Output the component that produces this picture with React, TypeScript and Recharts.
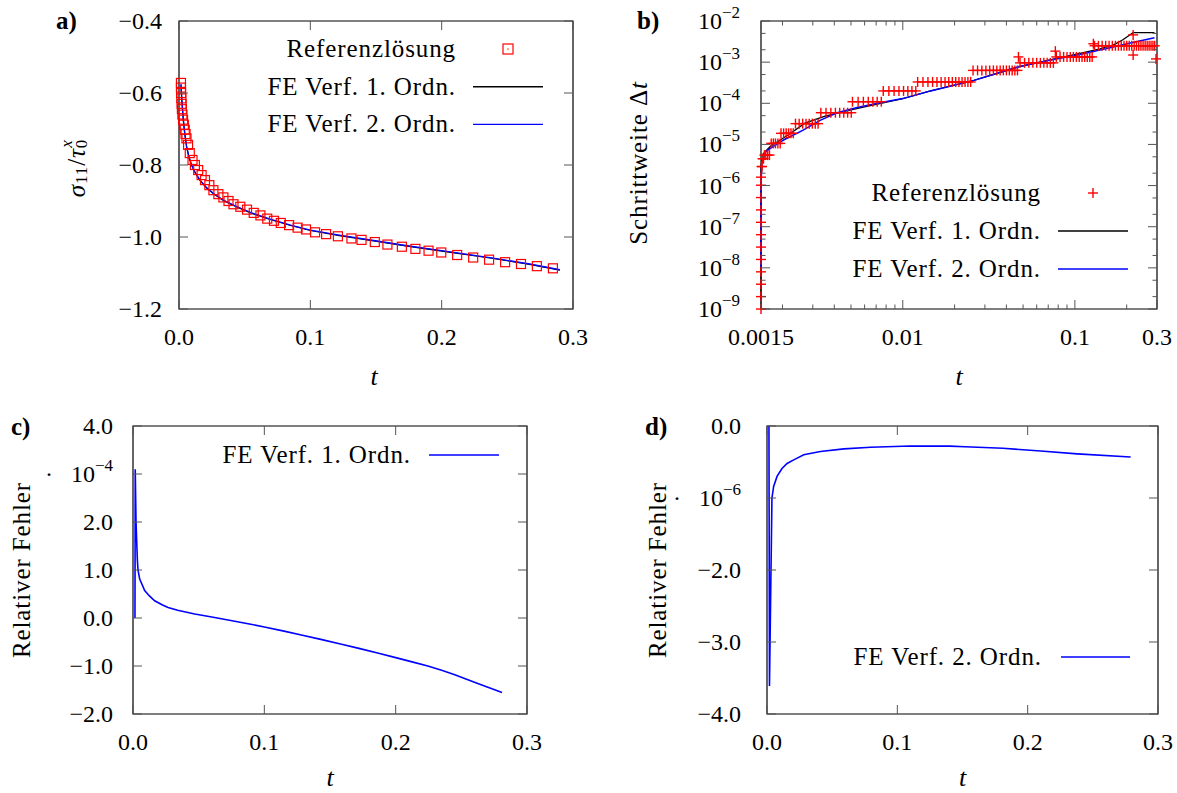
import React from "react";
import {
  ComposedChart,
  Line,
  Scatter,
  XAxis,
  YAxis,
  ReferenceArea,
  Legend,
} from "recharts";

const FONT = "'Liberation Serif', 'DejaVu Serif', 'Noto Serif', 'Times New Roman', Times, serif";
const RED = "#ff0000";
const BLUE = "#0000ff";
const TICK_COLOR = "#555";

const REF_NAME = "Referenzlösung";
const FE1_NAME = "FE Verf. 1. Ordn.";
const FE2_NAME = "FE Verf. 2. Ordn.";

// ---------- a) stress over time ----------
const aRefT = [
  0.0015, 0.0015, 0.0016, 0.0018, 0.002, 0.0022, 0.0026, 0.0031, 0.0037, 0.0044,
  0.005, 0.0057, 0.0069, 0.0082, 0.0103, 0.0121, 0.0146, 0.0172, 0.0198, 0.0231,
  0.0262, 0.03, 0.0338, 0.0377, 0.0415, 0.0467, 0.0518, 0.0569, 0.062, 0.0672,
  0.0723, 0.0775, 0.0838, 0.0903, 0.0967, 0.1036, 0.112, 0.121, 0.1313, 0.139,
  0.1491, 0.1587, 0.1697, 0.18, 0.19, 0.1997, 0.2118, 0.224, 0.2361, 0.2483,
  0.2604, 0.2725, 0.2847,
];
const aRefSigma = [
  -0.572, -0.585, -0.6, -0.615, -0.63, -0.645, -0.66, -0.674, -0.688, -0.702,
  -0.714, -0.726, -0.744, -0.767, -0.786, -0.8, -0.814, -0.828, -0.842, -0.856,
  -0.87, -0.881, -0.89, -0.9, -0.909, -0.916, -0.924, -0.933, -0.94, -0.949,
  -0.955, -0.961, -0.967, -0.974, -0.979, -0.987, -0.992, -0.998, -1.004, -1.008,
  -1.014, -1.021, -1.027, -1.033, -1.038, -1.043, -1.05, -1.057, -1.063, -1.07,
  -1.075, -1.081, -1.087,
];
const aFeT = [
  0.0015, 0.0018, 0.0022, 0.0027, 0.0033, 0.0044, 0.0058, 0.0075, 0.0096, 0.0125,
  0.016, 0.0205, 0.0263, 0.034, 0.0443, 0.056, 0.07, 0.085, 0.1, 0.122,
  0.147, 0.175, 0.2, 0.238, 0.267, 0.29,
];
const aFe1Sigma = [
  -0.578, -0.6, -0.623, -0.648, -0.676, -0.714, -0.75, -0.777, -0.801, -0.823,
  -0.843, -0.862, -0.88, -0.899, -0.917, -0.935, -0.952, -0.968, -0.982, -0.996,
  -1.01, -1.026, -1.039, -1.059, -1.076, -1.092,
];
const aFe2Sigma = [
  -0.575, -0.596, -0.62, -0.645, -0.674, -0.712, -0.749, -0.776, -0.8, -0.822,
  -0.842, -0.861, -0.879, -0.898, -0.916, -0.934, -0.951, -0.967, -0.981, -0.995,
  -1.009, -1.025, -1.038, -1.058, -1.075, -1.091,
];
const aXTicks = [0, 0.1, 0.2, 0.3];
const aXLabels = ["0.0", "0.1", "0.2", "0.3"];
const aYTicks = [-1.2, -1.0, -0.8, -0.6, -0.4];
const aYLabels = ["−1.2", "−1.0", "−0.8", "−0.6", "−0.4"];

// ---------- b) step size ----------
// first steps, all at t = 0.0015 (step doubles)
const bStartDt = [
  1e-9, 2e-9, 4e-9, 8e-9, 1.6e-8, 3.2e-8, 6.4e-8, 1.28e-7, 2.56e-7, 5.12e-7, 1.02e-6, 1.6e-6,
];
// runs of constant step size: [dt, times]
const bRefRuns: [number, number[]][] = [
  [2.9e-6, [0.00151, 0.00152]],
  [4.5e-6, [0.00153, 0.00155]],
  [5.5e-6, [0.00157, 0.0016, 0.00164, 0.00168]],
  [1.06e-5, [0.00172, 0.00177, 0.00182, 0.00188, 0.00194]],
  [1.86e-5, [0.00196, 0.00203, 0.0021, 0.00217, 0.00224, 0.00231]],
  [3.2e-5, [0.00238, 0.0025, 0.00262, 0.00274, 0.00286, 0.00298, 0.0031, 0.00322]],
  [5.9e-5, [0.00334, 0.00358, 0.00382, 0.00406, 0.0043, 0.00454, 0.00478, 0.00502]],
  [1.09e-4, [0.0051, 0.0055, 0.0059, 0.0063, 0.0067, 0.0071, 0.0075]],
  [2.0e-4, [0.0077, 0.0083, 0.0089, 0.0095, 0.0101, 0.0107, 0.0113, 0.0119]],
  [3.3e-4, [0.0122, 0.0131, 0.014, 0.0149, 0.0158, 0.0167, 0.0176, 0.0185, 0.0194, 0.0203, 0.0212, 0.0221, 0.023, 0.0239, 0.0248]],
  [6.3e-4, [0.0256, 0.0272, 0.0288, 0.0304, 0.032, 0.0336, 0.0352, 0.0368, 0.0384, 0.04, 0.0416, 0.0432, 0.0448, 0.0464]],
  [9.6e-4, [0.048, 0.051, 0.054, 0.057, 0.06, 0.063, 0.066, 0.069, 0.072, 0.075]],
  [1.34e-3, [0.078, 0.082, 0.086, 0.09, 0.094, 0.098, 0.102, 0.106, 0.11, 0.114, 0.118, 0.122, 0.126]],
  [2.5e-3, [0.13, 0.137, 0.144, 0.151, 0.158, 0.165, 0.172, 0.179, 0.186, 0.193, 0.2, 0.207, 0.214, 0.221, 0.228, 0.235, 0.242, 0.249, 0.256, 0.263, 0.27, 0.277, 0.284, 0.291]],
];
const bOutlierT = [0.047, 0.077, 0.128, 0.218, 0.218, 0.296];
const bOutlierDt = [1.34e-3, 1.85e-3, 2.8e-3, 4.6e-3, 1.49e-3, 1.2e-3];

const bFe1T = [
  0.0015, 0.0015, 0.0015, 0.0015, 0.00155, 0.0017, 0.0022, 0.0027, 0.0035, 0.0045,
  0.006, 0.01, 0.0145, 0.0259, 0.047, 0.07, 0.107, 0.14, 0.167, 0.19, 0.218, 0.29,
];
const bFe1Dt = [
  1e-9, 1e-7, 1e-6, 3e-6, 6e-6, 9e-6, 1.8e-5, 3.3e-5, 4.8e-5, 6.3e-5,
  8.2e-5, 1.3e-4, 2.0e-4, 3.6e-4, 7.7e-4, 1.1e-3, 1.64e-3, 2.1e-3, 2.6e-3, 3.5e-3, 5.2e-3, 5.2e-3,
];
const bFe2T = [
  0.0015, 0.0015, 0.0015, 0.00152, 0.00159, 0.00176, 0.00204, 0.00262, 0.00333, 0.00415,
  0.00543, 0.0075, 0.01, 0.0145, 0.0259, 0.047, 0.07, 0.107, 0.167, 0.22, 0.29,
];
const bFe2Dt = [
  1e-8, 1e-7, 1e-6, 4e-6, 6.6e-6, 8.8e-6, 1.3e-5, 2.2e-5, 3.9e-5, 5.9e-5,
  7.9e-5, 1.05e-4, 1.3e-4, 2.0e-4, 3.6e-4, 7.7e-4, 1.1e-3, 1.54e-3, 2.33e-3, 3.05e-3, 3.9e-3,
];
const bXTicks = [0.0015, 0.01, 0.1, 0.3];
const bXLabels = ["0.0015", "0.01", "0.1", "0.3"];
const bXMinor = [0.002, 0.003, 0.004, 0.005, 0.006, 0.007, 0.008, 0.009, 0.02, 0.03, 0.04, 0.05, 0.06, 0.07, 0.08, 0.09, 0.2];
const bYTicks = [1e-9, 1e-8, 1e-7, 1e-6, 1e-5, 1e-4, 1e-3, 1e-2];
const bYLabels = ["10^−9", "10^−8", "10^−7", "10^−6", "10^−5", "10^−4", "10^−3", "10^−2"];
const bYMinor = [2e-9, 5e-9, 2e-8, 5e-8, 2e-7, 5e-7, 2e-6, 5e-6, 2e-5, 5e-5, 2e-4, 5e-4, 2e-3, 5e-3];

// ---------- c) relative error, 1st order ----------
const cT = [
  0.0015, 0.0017, 0.0023, 0.0033, 0.0038, 0.0051, 0.0089, 0.0125, 0.0165, 0.0225,
  0.0267, 0.034, 0.047, 0.06, 0.0724, 0.0876, 0.1, 0.115, 0.129, 0.143,
  0.158, 0.172, 0.187, 0.2, 0.2125, 0.2245, 0.235, 0.245, 0.262, 0.281,
];
const cErr = [
  0, 3.1, 2.0, 1.22, 1.0, 0.81, 0.57, 0.46, 0.36, 0.27,
  0.22, 0.16, 0.083, 0.02, -0.04, -0.119, -0.187, -0.274, -0.358, -0.445,
  -0.541, -0.633, -0.735, -0.826, -0.914, -1.0, -1.09, -1.18, -1.36, -1.55,
];
const cYTicks = [-2, -1, 0, 1, 2, 3, 4];
const cYLabels = ["−2.0", "−1.0", "0.0", "1.0", "2.0", "·   10^−4", "4.0"];

// ---------- d) relative error, 2nd order ----------
const dT = [
  0.0015, 0.0019, 0.0038, 0.0051, 0.0077, 0.0115, 0.0154, 0.0205, 0.0282, 0.041,
  0.059, 0.0795, 0.11, 0.14, 0.152, 0.181, 0.21, 0.238, 0.279,
];
const dErr = [
  0, -3.61, -1.0, -0.84, -0.7, -0.59, -0.52, -0.47, -0.4, -0.355,
  -0.318, -0.295, -0.277, -0.28, -0.288, -0.31, -0.347, -0.387, -0.43,
];
const dYTicks = [-4, -3, -2, -1, 0];
const dYLabels = ["−4.0", "−3.0", "−2.0", "·   10^−6", "0.0"];

type Pt = { t: number; v: number };
const zip = (ts: number[], vs: number[]): Pt[] =>
  ts.slice(0, Math.min(ts.length, vs.length)).map((t, i) => ({ t, v: vs[i] }));

const aRef = zip(aRefT, aRefSigma);
const aFe1 = zip(aFeT, aFe1Sigma);
const aFe2 = zip(aFeT, aFe2Sigma);
const bRef: Pt[] = [
  ...bStartDt.map((v) => ({ t: 0.0015, v })),
  ...bRefRuns.flatMap(([dt, ts]) => ts.map((t) => ({ t, v: dt }))),
  ...zip(bOutlierT, bOutlierDt),
];
const bFe1 = zip(bFe1T, bFe1Dt);
const bFe2 = zip(bFe2T, bFe2Dt);
const cFe1 = zip(cT, cErr);
const dFe2 = zip(dT, dErr);

type Box = { left: number; right: number; top: number; bottom: number };

function tickText(s: string) {
  const i = s.indexOf("^");
  if (i < 0) return s;
  return (
    <>
      {s.slice(0, i).replace(/ /g, "\u00a0")}
      <tspan dy={-11} fontSize={17}>
        {s.slice(i + 1)}
      </tspan>
    </>
  );
}

const xTick = (box: Box, major: number[], labels: string[]) => (props: any) => {
  const { x, payload } = props;
  const idx = major.indexOf(payload.value);
  const len = idx >= 0 ? 9 : 4.5;
  return (
    <g>
      <line x1={x} x2={x} y1={box.bottom} y2={box.bottom - len} stroke={TICK_COLOR} />
      <line x1={x} x2={x} y1={box.top} y2={box.top + len} stroke={TICK_COLOR} />
      {idx >= 0 && (
        <text x={x} y={box.bottom + 36} textAnchor="middle" fontFamily={FONT} fontSize={24} fill="#000">
          {tickText(labels[idx])}
        </text>
      )}
    </g>
  );
};

const yTick = (box: Box, major: number[], labels: string[], gap: number) => (props: any) => {
  const { y, payload } = props;
  const idx = major.indexOf(payload.value);
  const len = idx >= 0 ? 9 : 4.5;
  return (
    <g>
      <line x1={box.left} x2={box.left + len} y1={y} y2={y} stroke={TICK_COLOR} />
      <line x1={box.right} x2={box.right - len} y1={y} y2={y} stroke={TICK_COLOR} />
      {idx >= 0 && (
        <text x={box.left - gap} y={y + 8} textAnchor="end" fontFamily={FONT} fontSize={24} fill="#000">
          {tickText(labels[idx])}
        </text>
      )}
    </g>
  );
};

const SquareDot = (props: any) => {
  const { cx, cy } = props;
  if (cx == null || cy == null) return <g />;
  return <rect x={cx - 4.5} y={cy - 4.5} width={9} height={9} fill="none" stroke={RED} strokeWidth={1.2} />;
};

const PlusDot = (props: any) => {
  const { cx, cy } = props;
  if (cx == null || cy == null) return <g />;
  return (
    <g stroke={RED} strokeWidth={1.4}>
      <line x1={cx - 5} x2={cx + 5} y1={cy} y2={cy} />
      <line x1={cx} x2={cx} y1={cy - 5} y2={cy + 5} />
    </g>
  );
};

type LegendSpec = { textRight: number; x1: number; x2: number; y0: number; gap: number };
const ORDER = [REF_NAME, FE1_NAME, FE2_NAME];

const legendContent = (spec: LegendSpec, w: number, h: number) => (props: any) => {
  const items = [...(props.payload ?? [])].sort(
    (a: any, b: any) => ORDER.indexOf(a.value) - ORDER.indexOf(b.value)
  );
  const cx = (spec.x1 + spec.x2) / 2;
  return (
    <svg width={w} height={h} style={{ display: "block", overflow: "visible" }}>
      {items.map((it: any, i: number) => {
        const y = spec.y0 + i * spec.gap;
        let sample: React.ReactNode;
        if (it.type === "square") {
          sample = (
            <g>
              <rect x={cx - 5} y={y - 5} width={10} height={10} fill="none" stroke={RED} strokeWidth={1.2} />
              <rect x={cx - 0.6} y={y - 0.6} width={1.2} height={1.2} fill={RED} />
            </g>
          );
        } else if (it.type === "cross") {
          sample = <PlusDot cx={cx} cy={y} />;
        } else {
          sample = <line x1={spec.x1} x2={spec.x2} y1={y} y2={y} stroke={it.color} strokeWidth={1.4} />;
        }
        return (
          <g key={i}>
            <text
              x={spec.textRight}
              y={y + 8}
              textAnchor="end"
              fontFamily={FONT}
              fontSize={25}
              letterSpacing={0.9}
              fill="#000"
            >
              {it.value}
            </text>
            {sample}
          </g>
        );
      })}
    </svg>
  );
};

type Title = { x: number; y: number };

function Overlay({
  w,
  h,
  tag,
  tagPos,
  tPos,
  yPos,
  yTitle,
}: {
  w: number;
  h: number;
  tag: string;
  tagPos: Title;
  tPos: Title;
  yPos: Title;
  yTitle: React.ReactNode;
}) {
  return (
    <svg
      width={w}
      height={h}
      style={{ position: "absolute", left: 0, top: 0, pointerEvents: "none" }}
      fontFamily={FONT}
      fill="#000"
    >
      <text x={tagPos.x} y={tagPos.y} fontSize={25} fontWeight="bold">
        {tag}
      </text>
      <text x={tPos.x} y={tPos.y} fontSize={26} fontStyle="italic" textAnchor="middle">
        t
      </text>
      <text
        x={yPos.x}
        y={yPos.y}
        fontSize={25}
        textAnchor="middle"
        dominantBaseline="central"
        letterSpacing={0.9}
        transform={`rotate(-90 ${yPos.x} ${yPos.y})`}
      >
        {yTitle}
      </text>
    </svg>
  );
}

const sigmaTitle = (
  <>
    <tspan fontStyle="italic">σ</tspan>
    <tspan fontSize={17} dy={5}>11</tspan>
    <tspan dy={-5}>/</tspan>
    <tspan fontStyle="italic">τ</tspan>
    <tspan fontSize={17} dy={5}>0</tspan>
    <tspan fontSize={17} fontStyle="italic" dx={-9} dy={-15}>x</tspan>
  </>
);
const stepTitle = (
  <>
    Schrittweite Δ<tspan fontStyle="italic">t</tspan>
  </>
);

function PanelA() {
  const W = 590, H = 400;
  const box: Box = { left: 179, right: 573, top: 21, bottom: 309 };
  return (
    <div style={{ position: "absolute", left: 0, top: 0, width: W, height: H }}>
      <ComposedChart
        width={W}
        height={H}
        margin={{ top: box.top, right: W - box.right, left: 0, bottom: 0 }}
        style={{ fontFamily: FONT }}
      >
        <XAxis
          type="number"
          dataKey="t"
          domain={[0, 0.3]}
          ticks={aXTicks}
          interval={0}
          height={H - box.bottom}
          axisLine={false}
          tickLine={false}
          tick={xTick(box, aXTicks, aXLabels)}
        />
        <YAxis
          type="number"
          dataKey="v"
          domain={[-1.2, -0.4]}
          ticks={aYTicks}
          interval={0}
          width={box.left}
          axisLine={false}
          tickLine={false}
          tick={yTick(box, aYTicks, aYLabels, 17)}
        />
        <ReferenceArea x1={0} x2={0.3} y1={-1.2} y2={-0.4} fill="none" stroke="#000" strokeWidth={1.2} />
        <Scatter name={REF_NAME} data={aRef} dataKey="v" legendType="square" shape={SquareDot} isAnimationActive={false} />
        <Line name={FE1_NAME} data={aFe1} dataKey="v" stroke="#000" strokeWidth={1.2} dot={false} activeDot={false} legendType="line" isAnimationActive={false} />
        <Line name={FE2_NAME} data={aFe2} dataKey="v" stroke={BLUE} strokeWidth={1.3} dot={false} activeDot={false} legendType="line" isAnimationActive={false} />
        <Legend
          layout="vertical"
          align="center"
          verticalAlign="middle"
          wrapperStyle={{ left: 0, top: 0, width: W, height: H, right: "auto", bottom: "auto" }}
          content={legendContent({ textRight: 456, x1: 473, x2: 543, y0: 49, gap: 37.7 }, W, H)}
        />
      </ComposedChart>
      <Overlay w={W} h={H} tag="a)" tagPos={{ x: 56, y: 29 }} tPos={{ x: 374, y: 385 }} yPos={{ x: 76, y: 168 }} yTitle={sigmaTitle} />
    </div>
  );
}

function PanelB() {
  const W = 587, H = 400;
  const box: Box = { left: 171, right: 567, top: 21, bottom: 309 };
  return (
    <div style={{ position: "absolute", left: 590, top: 0, width: W, height: H }}>
      <ComposedChart
        width={W}
        height={H}
        margin={{ top: box.top, right: W - box.right, left: 0, bottom: 0 }}
        style={{ fontFamily: FONT }}
      >
        <XAxis
          type="number"
          dataKey="t"
          scale="log"
          domain={[0.0015, 0.3]}
          ticks={[...bXTicks, ...bXMinor]}
          interval={0}
          height={H - box.bottom}
          axisLine={false}
          tickLine={false}
          tick={xTick(box, bXTicks, bXLabels)}
        />
        <YAxis
          type="number"
          dataKey="v"
          scale="log"
          domain={[1e-9, 1e-2]}
          ticks={[...bYTicks, ...bYMinor]}
          interval={0}
          width={box.left}
          axisLine={false}
          tickLine={false}
          tick={yTick(box, bYTicks, bYLabels, 21)}
        />
        <ReferenceArea x1={0.0015} x2={0.3} y1={1e-9} y2={1e-2} fill="none" stroke="#000" strokeWidth={1.2} />
        <Scatter name={REF_NAME} data={bRef} dataKey="v" legendType="cross" shape={PlusDot} isAnimationActive={false} />
        <Line name={FE1_NAME} data={bFe1} dataKey="v" stroke="#000" strokeWidth={1.3} dot={false} activeDot={false} legendType="line" isAnimationActive={false} />
        <Line name={FE2_NAME} data={bFe2} dataKey="v" stroke={BLUE} strokeWidth={1.5} dot={false} activeDot={false} legendType="line" isAnimationActive={false} />
        <Legend
          layout="vertical"
          align="center"
          verticalAlign="middle"
          wrapperStyle={{ left: 0, top: 0, width: W, height: H, right: "auto", bottom: "auto" }}
          content={legendContent({ textRight: 451, x1: 468, x2: 538, y0: 193, gap: 38 }, W, H)}
        />
      </ComposedChart>
      <Overlay w={W} h={H} tag="b)" tagPos={{ x: 47, y: 29 }} tPos={{ x: 369, y: 385 }} yPos={{ x: 48, y: 163 }} yTitle={stepTitle} />
    </div>
  );
}

function ErrorPanel({
  left,
  box,
  data,
  name,
  yTicks,
  yLabels,
  yDomain,
  gap,
  legendY,
  legendX,
  tag,
  tagX,
  titleX,
}: {
  left: number;
  box: Box;
  data: Pt[];
  name: string;
  yTicks: number[];
  yLabels: string[];
  yDomain: [number, number];
  gap: number;
  legendY: number;
  legendX: [number, number, number];
  tag: string;
  tagX: number;
  titleX: number;
}) {
  const W = left === 0 ? 590 : 587, H = 393;
  return (
    <div style={{ position: "absolute", left, top: 400, width: W, height: H }}>
      <ComposedChart
        width={W}
        height={H}
        margin={{ top: box.top, right: W - box.right, left: 0, bottom: 0 }}
        style={{ fontFamily: FONT }}
      >
        <XAxis
          type="number"
          dataKey="t"
          domain={[0, 0.3]}
          ticks={aXTicks}
          interval={0}
          allowDataOverflow
          height={H - box.bottom}
          axisLine={false}
          tickLine={false}
          tick={xTick(box, aXTicks, aXLabels)}
        />
        <YAxis
          type="number"
          dataKey="v"
          domain={yDomain}
          ticks={yTicks}
          interval={0}
          allowDataOverflow
          width={box.left}
          axisLine={false}
          tickLine={false}
          tick={yTick(box, yTicks, yLabels, gap)}
        />
        <ReferenceArea x1={0} x2={0.3} y1={yDomain[0]} y2={yDomain[1]} fill="none" stroke="#000" strokeWidth={1.2} />
        <Line name={name} data={data} dataKey="v" stroke={BLUE} strokeWidth={1.6} dot={false} activeDot={false} legendType="line" isAnimationActive={false} />
        <Legend
          layout="vertical"
          align="center"
          verticalAlign="middle"
          wrapperStyle={{ left: 0, top: 0, width: W, height: H, right: "auto", bottom: "auto" }}
          content={legendContent({ textRight: legendX[0], x1: legendX[1], x2: legendX[2], y0: legendY, gap: 38 }, W, H)}
        />
      </ComposedChart>
      <Overlay
        w={W}
        h={H}
        tag={tag}
        tagPos={{ x: tagX, y: 35 }}
        tPos={{ x: (box.left + box.right) / 2, y: 386 }}
        yPos={{ x: titleX, y: 170 }}
        yTitle="Relativer Fehler"
      />
    </div>
  );
}

export default function App() {
  return (
    <div style={{ position: "absolute", left: 0, top: 0, width: 1177, height: 793, background: "#fff" }}>
      <PanelA />
      <PanelB />
      <ErrorPanel
        left={0}
        box={{ left: 133, right: 527, top: 26, bottom: 314 }}
        data={cFe1}
        name={FE1_NAME}
        yTicks={cYTicks}
        yLabels={cYLabels}
        yDomain={[-2, 4]}
        gap={20}
        legendY={55}
        legendX={[411, 429, 499]}
        tag="c)"
        tagX={11}
        titleX={21}
      />
      <ErrorPanel
        left={590}
        box={{ left: 177, right: 568, top: 26, bottom: 314 }}
        data={dFe2}
        name={FE2_NAME}
        yTicks={dYTicks}
        yLabels={dYLabels}
        yDomain={[-4, 0]}
        gap={26}
        legendY={257}
        legendX={[452, 471, 540]}
        tag="d)"
        tagX={55}
        titleX={67}
      />
    </div>
  );
}
